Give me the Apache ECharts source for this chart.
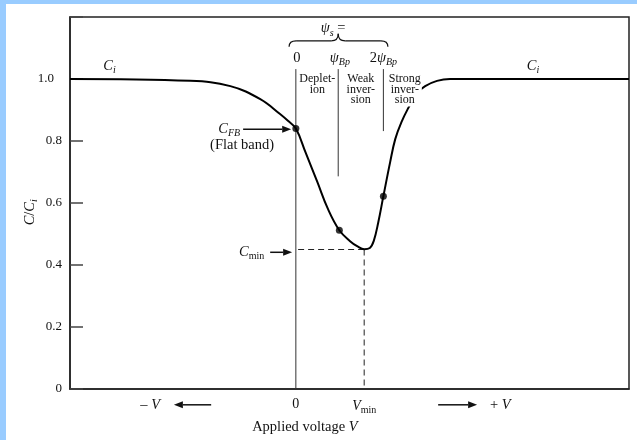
<!DOCTYPE html>
<html>
<head>
<meta charset="utf-8">
<script src="https://cdn.jsdelivr.net/npm/echarts@6/dist/echarts.min.js"></script>
<style>
  html, body { margin: 0; padding: 0; background: #fff; }
  #chart { position: absolute; left: 0; top: 0; width: 637px; height: 440px; }
  /* light blue frame of the scanned figure */
  .frameL { position: absolute; left: 0; top: 0; width: 6px; height: 440px; background: #99ccff; }
  .frameT { position: absolute; left: 0; top: 0; width: 637px; height: 4px; background: #99ccff; }
</style>
</head>
<body>
<div id="chart"></div>
<div class="frameL"></div>
<div class="frameT"></div>
<script>
// C/Ci versus applied voltage (MOS capacitor, low frequency)
const curveV = [-4.0, -1.87, -1.16, -0.63, -0.28, -0.14, 0, 0.17, 0.38, 0.57, 0.77, 0.96, 1.10, 1.21, 1.31, 1.38, 1.46, 1.55, 1.67, 1.76, 1.87, 2.01, 2.13, 2.29, 2.50, 2.73, 5.9];
const curveC = [1.0, 0.994, 0.977, 0.935, 0.887, 0.865, 0.84, 0.764, 0.668, 0.58, 0.512, 0.477, 0.459, 0.451, 0.455, 0.478, 0.538, 0.622, 0.732, 0.806, 0.861, 0.913, 0.952, 0.977, 0.994, 1.0, 1.0];

// marked points: flat band, psi_s = psi_Bp, psi_s = 2 psi_Bp
const dotV = [0, 0.77, 1.55];
const dotC = [0.84, 0.512, 0.622];

// boundaries between depletion / weak inversion / strong inversion
const regionV = [0, 0.75, 1.55];
const regionLow = [0, 0.686, 0.832];
const regionHigh = 1.032;

const vMin = 1.21;
const cMin = 0.45;

const yTicks = [0, 0.2, 0.4, 0.6, 0.8, 1.0];
const xLabels = [0, vMin];

const serif = '"Liberation Serif", "DejaVu Serif", serif';
const ink = '#111';

function richAt(size) {
  const sub = Math.round(size * 0.7);
  const drop = Math.round(size * 0.6);
  return {
    n: { fontFamily: serif, fontSize: size, color: ink },
    i: { fontFamily: serif, fontSize: size, fontStyle: 'italic', color: ink },
    s: { fontFamily: serif, fontSize: sub, fontStyle: 'italic', color: ink, padding: [drop, 0, 0, 0] },
    r: { fontFamily: serif, fontSize: sub, color: ink, padding: [drop, 0, 0, 0] },
    one: { fontFamily: serif, fontSize: size, color: ink, padding: [0, 8, 0, 0] }
  };
}
const axisRich = richAt(13);
const noteRich = richAt(14.5);

const chart = echarts.init(document.getElementById('chart'));

function segment(a, b, dashed, color) {
  return {
    type: 'line',
    data: [a, b],
    showSymbol: false,
    silent: true,
    animation: false,
    z: 3,
    lineStyle: { color: color || '#222', width: 1, type: dashed ? [6, 4] : 'solid' }
  };
}

const series = [];
regionV.forEach((v, k) => series.push(segment([v, regionLow[k]], [v, regionHigh], false, '#333')));
series.push(segment([0.04, cMin], [vMin, cMin], true));
series.push(segment([vMin, cMin], [vMin, 0], true));
series.push({
  type: 'line',
  data: curveV.map((v, k) => [v, curveC[k]]),
  smooth: 0.4,
  showSymbol: false,
  animation: false,
  z: 5,
  lineStyle: { color: '#000', width: 2 }
});
series.push({
  type: 'scatter',
  data: dotV.map((v, k) => [v, dotC[k]]),
  symbolSize: 7,
  animation: false,
  z: 6,
  itemStyle: { color: '#000' }
});

chart.setOption({
  backgroundColor: '#fff',
  animation: false,
  grid: {
    left: 70, right: 8, top: 17, bottom: 51,
    show: true, borderColor: '#222', borderWidth: 1.5,
    outerBoundsMode: 'none'
  },
  xAxis: {
    type: 'value',
    min: -4, max: 5.9,
    splitLine: { show: false },
    axisTick: { show: false },
    axisLine: { onZero: false, lineStyle: { color: '#222', width: 1.5 } },
    axisLabel: {
      customValues: xLabels,
      margin: 8,
      formatter: v => (v === 0 ? '{n|0}' : '{i|V}{r|min}'),
      rich: richAt(14)
    }
  },
  yAxis: {
    type: 'value',
    min: 0, max: 1.2, interval: 0.2,
    splitLine: { show: false },
    axisLine: { onZero: false, lineStyle: { color: '#222', width: 1.5 } },
    axisTick: { inside: true, length: 13, lineStyle: { color: '#444', width: 1.5 } },
    axisLabel: {
      margin: 8,
      formatter: v => {
        const hit = yTicks.find(t => Math.abs(t - v) < 1e-6);
        if (hit === undefined) return '';
        if (hit === 0) return '{n|0}';
        if (hit === 1) return '{one|1.0}';
        return '{n|' + hit.toFixed(1) + '}';
      },
      rich: axisRich
    }
  },
  series: series
});

// annotations, anchored in data coordinates
const px = (v, c) => chart.convertToPixel({ gridIndex: 0 }, [v, c]);

function text(v, c, str, extra) {
  const p = px(v, c);
  const st = Object.assign({
    text: str, rich: noteRich, fill: ink,
    font: '14.5px ' + serif,
    align: 'center', textAlign: 'center',
    verticalAlign: 'middle', textVerticalAlign: 'middle'
  }, extra || {});
  return { type: 'text', x: p[0], y: p[1], z: 100, silent: true, style: st };
}

function arrow(v0, c0, v1, c1) {
  const a = px(v0, c0), b = px(v1, c1);
  const dx = b[0] - a[0], dy = b[1] - a[1];
  const len = Math.hypot(dx, dy), ux = dx / len, uy = dy / len;
  const hl = 9, hw = 3.5;
  const base = [b[0] - ux * hl, b[1] - uy * hl];
  return [
    { type: 'line', z: 100, silent: true, shape: { x1: a[0], y1: a[1], x2: base[0], y2: base[1] }, style: { stroke: ink, lineWidth: 1.5 } },
    { type: 'polygon', z: 100, silent: true, shape: { points: [b, [base[0] - uy * hw, base[1] + ux * hw], [base[0] + uy * hw, base[1] - ux * hw]] }, style: { fill: ink } }
  ];
}

function brace(vl, vc, vr, cBase, cMid, cTip) {
  const l = px(vl, cBase), r = px(vr, cBase), m = px(vc, cMid), t = px(vc, cTip);
  const y = m[1];
  const st = { stroke: ink, lineWidth: 1.2, fill: null };
  const curve = (x1, y1, cx, cy, x2, y2) => ({ type: 'bezierCurve', z: 100, silent: true, shape: { x1, y1, x2, y2, cpx1: cx, cpy1: cy }, style: st });
  const seg = (x1, x2) => ({ type: 'line', z: 100, silent: true, shape: { x1, y1: y, x2, y2: y }, style: st });
  return [
    curve(l[0], l[1], l[0], y, l[0] + 7, y),
    seg(l[0] + 7, t[0] - 7),
    curve(t[0] - 7, y, t[0], y, t[0], t[1]),
    curve(t[0], t[1], t[0], y, t[0] + 7, y),
    seg(t[0] + 7, r[0] - 7),
    curve(r[0] - 7, y, r[0], y, r[0], r[1])
  ];
}

const small = { font: '12px ' + serif, lineHeight: 10.5, verticalAlign: 'top', textVerticalAlign: 'top' };
const g = [
  text(-3.30, 1.042, '{i|C}{s|i}'),
  text(4.20, 1.042, '{i|C}{s|i}'),
  text(0.66, 1.163, '{i|ψ}{s|s}{n| =}'),
  text(0.02, 1.068, '{n|0}'),
  text(0.78, 1.068, '{i|ψ}{s|Bp}'),
  text(1.55, 1.068, '{n|2}{i|ψ}{s|Bp}'),
  text(0.38, 1.016, 'Deplet-\nion', small),
  text(1.15, 1.016, 'Weak\ninver-\nsion', small),
  text(1.93, 1.016, 'Strong\ninver-\nsion', Object.assign({ backgroundColor: '#fff', padding: [0, 1, 1, 1] }, small)),
  text(-0.987, 0.838, '{i|C}{s|FB}', { align: 'right', textAlign: 'right' }),
  text(-0.952, 0.786, '{n|(Flat band)}'),
  text(-0.56, 0.441, '{i|C}{r|min}', { align: 'right', textAlign: 'right' }),
  text(-2.58, -0.051, '{n|– }{i|V}'),
  text(3.62, -0.051, '{n|+ }{i|V}'),
  text(0.16, -0.122, '{n|Applied voltage }{i|V}'),
  Object.assign(text(-4.71, 0.57, '{i|C}{n|/}{i|C}{s|i}'), { rotation: Math.PI / 2 })
]
  .concat(brace(-0.12, 0.75, 1.63, 1.104, 1.123, 1.146))
  .concat(arrow(-0.934, 0.838, -0.083, 0.838))
  .concat(arrow(-0.455, 0.441, -0.066, 0.441))
  .concat(arrow(-1.50, -0.051, -2.16, -0.051))
  .concat(arrow(2.52, -0.051, 3.21, -0.051));

chart.setOption({ graphic: { elements: g } });
</script>
</body>
</html>
